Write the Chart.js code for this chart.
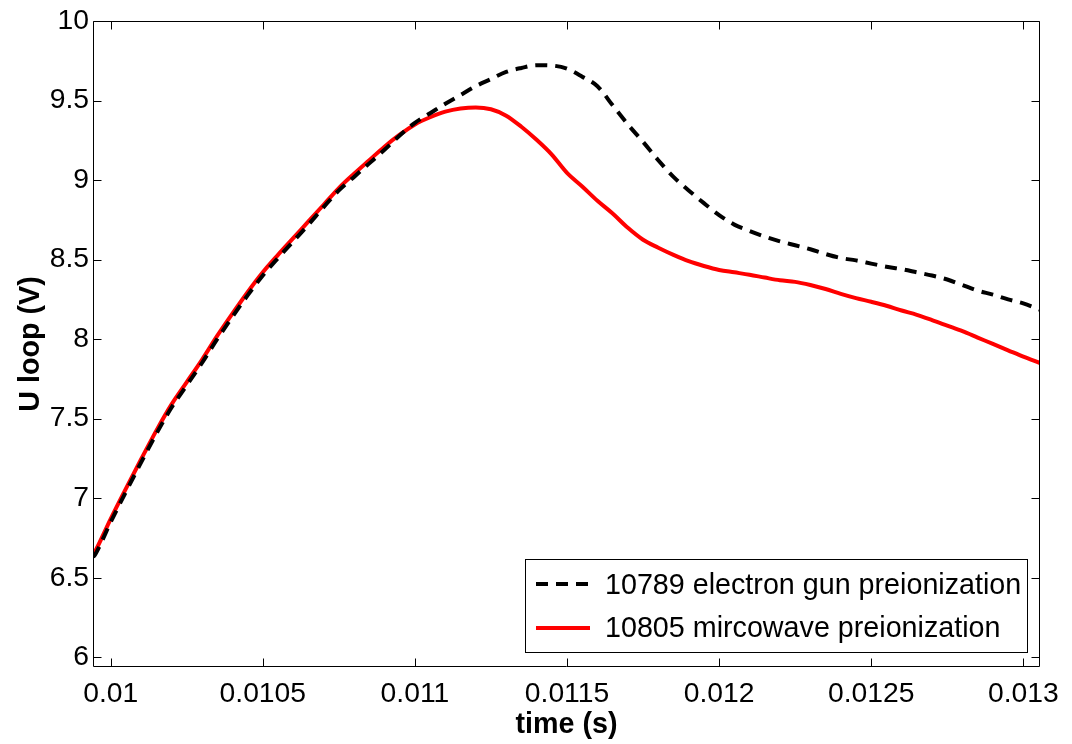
<!DOCTYPE html>
<html>
<head>
<meta charset="utf-8">
<script src="https://cdn.jsdelivr.net/npm/chart.js@4/dist/chart.umd.min.js"></script>
<style>
html,body{margin:0;padding:0;background:#fff;}
#wrap{width:1072px;height:744px;position:relative;}
</style>
</head>
<body>
<div id="wrap"><canvas id="c" width="1072" height="744"></canvas></div>
<script>
// time (s)
const timeS = [0.009942,0.00995,0.01,0.01005,0.0101,0.01015,0.0102,0.01025,0.0103,0.01035,0.0104,0.01045,0.0105,0.01055,0.0106,0.01065,0.0107,0.01075,0.0108,0.01085,0.0109,0.01095,0.011,0.01105,0.0111,0.01115,0.0112,0.01125,0.0113,0.01135,0.0114,0.01145,0.0115,0.01155,0.0116,0.01165,0.0117,0.01175,0.0118,0.01185,0.0119,0.01195,0.012,0.01205,0.0121,0.01215,0.0122,0.01225,0.0123,0.01235,0.0124,0.01245,0.0125,0.01255,0.0126,0.01265,0.0127,0.01275,0.0128,0.01285,0.0129,0.01295,0.013,0.013055];
// 10789 electron gun preionization
const uElectronGun = [6.63,6.65,6.85,7.04,7.225,7.405,7.57,7.71,7.85,8.0,8.14,8.275,8.40,8.51,8.615,8.72,8.83,8.935,9.02,9.105,9.19,9.28,9.36,9.42,9.48,9.535,9.59,9.635,9.68,9.705,9.722,9.72,9.70,9.65,9.59,9.47,9.35,9.24,9.125,9.02,8.935,8.855,8.78,8.72,8.68,8.645,8.615,8.59,8.565,8.535,8.51,8.495,8.475,8.455,8.44,8.42,8.40,8.375,8.34,8.305,8.28,8.25,8.225,8.185];
// 10805 mircowave preionization
const uMicrowave = [6.645,6.67,6.87,7.06,7.245,7.425,7.59,7.73,7.87,8.02,8.16,8.295,8.42,8.53,8.635,8.74,8.845,8.95,9.04,9.125,9.21,9.285,9.35,9.395,9.43,9.45,9.457,9.445,9.405,9.335,9.253,9.16,9.045,8.96,8.87,8.79,8.70,8.625,8.575,8.53,8.49,8.46,8.435,8.42,8.405,8.387,8.37,8.36,8.34,8.315,8.285,8.258,8.235,8.21,8.18,8.153,8.12,8.085,8.05,8.01,7.97,7.93,7.89,7.85];

const seriesLabels = ["10789 electron gun preionization","10805 mircowave preionization"];
const xTickValues = [0.01,0.0105,0.011,0.0115,0.012,0.0125,0.013];
const xTickLabels = ["0.01","0.0105","0.011","0.0115","0.012","0.0125","0.013"];
const yTickValues = [6,6.5,7,7.5,8,8.5,9,9.5,10];
const yTickLabels = ["6","6.5","7","7.5","8","8.5","9","9.5","10"];

const FONT = "'Liberation Sans', Arial, sans-serif";

const frameTicks = {
  id:'frameTicks',
  afterDatasetsDraw(chart){
    const {ctx, chartArea:a, scales:{x,y}} = chart;
    ctx.save();
    ctx.strokeStyle = '#000';
    ctx.lineWidth = 1;
    const L = Math.floor(a.left)+0.5, R = Math.floor(a.right)-0.5, T = Math.floor(a.top)+0.5, B = Math.floor(a.bottom)-0.5;
    ctx.beginPath();
    xTickValues.forEach(v=>{
      const px = Math.round(x.getPixelForValue(v))+0.5;
      ctx.moveTo(px,B); ctx.lineTo(px,B-8);
      ctx.moveTo(px,T); ctx.lineTo(px,T+8);
    });
    yTickValues.forEach(v=>{
      const py = Math.round(y.getPixelForValue(v))+0.5;
      ctx.moveTo(L,py); ctx.lineTo(L+8,py);
      ctx.moveTo(R,py); ctx.lineTo(R-8,py);
    });
    ctx.stroke();
    ctx.beginPath();
    ctx.rect(L,T,R-L,B-T);
    ctx.stroke();

    // legend
    const lx = 525.5, ly = 559.5, lw = 502, lh = 93;
    ctx.fillStyle = '#fff';
    ctx.fillRect(lx,ly,lw,lh);
    ctx.strokeRect(lx,ly,lw,lh);
    const lineRows = [584, 628];
    const textRows = [586, 629];
    chart.data.datasets.forEach((ds,i)=>{
      ctx.save();
      ctx.strokeStyle = ds.borderColor;
      ctx.lineWidth = ds.borderWidth;
      ctx.setLineDash(ds.borderDash || []);
      ctx.beginPath();
      ctx.moveTo(536, lineRows[i]); ctx.lineTo(590, lineRows[i]);
      ctx.stroke();
      ctx.restore();
      ctx.fillStyle = '#000';
      ctx.font = "28.7px " + FONT;
      ctx.textBaseline = 'middle';
      ctx.textAlign = 'left';
      ctx.fillText(ds.label, 605, textRows[i]);
    });
    ctx.restore();
  }
};

new Chart(document.getElementById('c'), {
  type:'line',
  data:{
    labels: timeS,
    datasets:[
      {label:seriesLabels[0], data: timeS.map((t,i)=>({x:t,y:uElectronGun[i]})), borderColor:'#000', borderWidth:4, borderDash:[12,8], borderCapStyle:'butt', pointRadius:0, fill:false, tension:0, cubicInterpolationMode:'monotone'},
      {label:seriesLabels[1], data: timeS.map((t,i)=>({x:t,y:uMicrowave[i]})), borderColor:'#ff0000', borderWidth:4, pointRadius:0, fill:false, tension:0, cubicInterpolationMode:'monotone'}
    ]
  },
  options:{
    responsive:false,
    animation:false,
    devicePixelRatio:1,
    layout:{padding:{left:0,right:32,top:21,bottom:0}},
    plugins:{legend:{display:false}, tooltip:{enabled:false}},
    scales:{
      x:{
        type:'linear', min:0.0099418, max:0.0130549,
        afterBuildTicks(s){ s.ticks = xTickValues.map(v=>({value:v})); },
        afterFit(s){ s.height = 77; },
        grid:{display:false, drawTicks:false},
        border:{display:false},
        ticks:{color:'#000', font:{family:FONT, size:28.3}, padding:10, maxRotation:0, autoSkip:false,
          callback:(v,i)=>xTickLabels[i]},
        title:{display:true, text:'time (s)', color:'#000', font:{family:FONT, size:28.7, weight:'bold'}, padding:{top:0,bottom:2}}
      },
      y:{
        type:'linear', min:5.939, max:10,
        afterBuildTicks(s){ s.ticks = yTickValues.map(v=>({value:v})); },
        afterFit(s){ s.width = 93; },
        grid:{display:false, drawTicks:false},
        border:{display:false},
        ticks:{color:'#000', font:{family:FONT, size:28.3}, padding:4, autoSkip:false,
          callback:(v,i)=>yTickLabels[i]},
        title:{display:true, text:'U loop (V)', color:'#000', font:{family:FONT, size:28.7, weight:'bold'}, padding:{top:14,bottom:0}}
      }
    }
  },
  plugins:[frameTicks]
});
</script>
</body>
</html>
